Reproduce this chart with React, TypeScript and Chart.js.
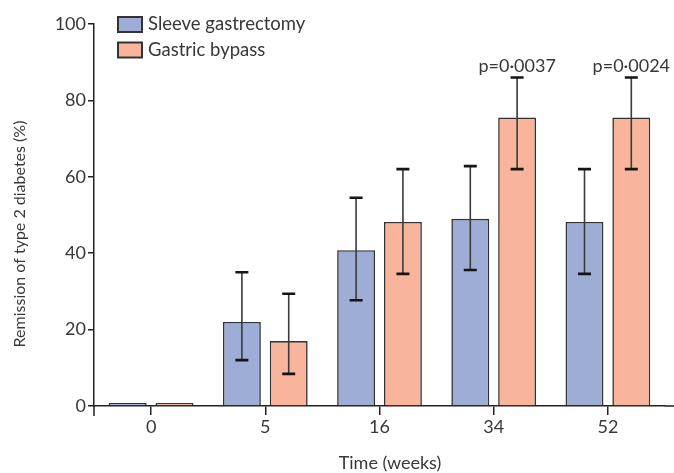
import React, { useEffect, useRef } from "react";
import { Chart, registerables } from "chart.js";

Chart.register(...registerables);

const categories = ["0", "5", "16", "34", "52"];
const sleeveValues = [0, 22, 40.8, 49, 48.2];
const bypassValues = [0, 17, 48.2, 75.5, 75.5];
const sleeveLow = [null, 12, 27.7, 35.6, 34.6];
const sleeveHigh = [null, 35, 54.5, 62.8, 62];
const bypassLow = [null, 8.4, 34.6, 62, 62];
const bypassHigh = [null, 29.4, 62, 86, 86];
const pLabels = ["", "", "", "p=0·0037", "p=0·0024"];
const seriesNames = ["Sleeve gastrectomy", "Gastric bypass"];
const yTitle = "Remission of type 2 diabetes (%)";
const xTitle = "Time (weeks)";

const FONT = "Lato, 'Open Sans', sans-serif";
const TEXT = "#383838";
const SLEEVE_FILL = "#9dadd6";
const BYPASS_FILL = "#f9b59b";
const EDGE = "#333333";

const overlay = {
  id: "overlay",
  afterDatasetsDraw(chart: any) {
    const ctx = chart.ctx;
    const y = chart.scales.y;
    const area = chart.chartArea;
    const lows = [sleeveLow, bypassLow];
    const highs = [sleeveHigh, bypassHigh];
    ctx.save();
    // error bars
    [0, 1].forEach((d) => {
      const meta = chart.getDatasetMeta(d);
      meta.data.forEach((el: any, i: number) => {
        const lo = lows[d][i];
        const hi = highs[d][i];
        if (lo == null || hi == null) return;
        const x = el.x;
        const yl = y.getPixelForValue(lo);
        const yh = y.getPixelForValue(hi);
        ctx.strokeStyle = "#3a3a3a";
        ctx.lineWidth = 1.6;
        ctx.beginPath();
        ctx.moveTo(x, yl);
        ctx.lineTo(x, yh);
        ctx.stroke();
        ctx.strokeStyle = "#151515";
        ctx.lineWidth = 2.6;
        ctx.beginPath();
        ctx.moveTo(x - 6.5, yl);
        ctx.lineTo(x + 6.5, yl);
        ctx.moveTo(x - 6.5, yh);
        ctx.lineTo(x + 6.5, yh);
        ctx.stroke();
        if (d === 1 && pLabels[i]) {
          ctx.fillStyle = TEXT;
          ctx.font = `18px ${FONT}`;
          ctx.textAlign = "center";
          ctx.textBaseline = "bottom";
          ctx.fillText(pLabels[i], x, yh - 2);
        }
      });
    });
    // axis extensions
    ctx.strokeStyle = "#222";
    ctx.lineWidth = 1.5;
    ctx.beginPath();
    ctx.moveTo(area.left, area.bottom);
    ctx.lineTo(area.left, area.bottom + 10);
    ctx.moveTo(area.right, area.bottom);
    ctx.lineTo(chart.width, area.bottom);
    ctx.stroke();
    // legend
    const fills = [SLEEVE_FILL, BYPASS_FILL];
    seriesNames.forEach((name, k) => {
      const by = 17 + k * 25.5;
      ctx.fillStyle = fills[k];
      ctx.fillRect(118, by, 24, 15);
      ctx.strokeStyle = EDGE;
      ctx.lineWidth = 2;
      ctx.strokeRect(118, by, 24, 15);
      ctx.fillStyle = TEXT;
      ctx.font = `18.5px ${FONT}`;
      ctx.textAlign = "left";
      ctx.textBaseline = "middle";
      ctx.fillText(name, 148, by + 7.5);
    });
    // axis titles
    ctx.fillStyle = TEXT;
    ctx.font = `18px ${FONT}`;
    ctx.textAlign = "center";
    ctx.textBaseline = "middle";
    ctx.fillText(xTitle, 390, 463);
    ctx.font = `16px ${FONT}`;
    ctx.save();
    ctx.translate(20, 234);
    ctx.rotate(-Math.PI / 2);
    ctx.fillText(yTitle, 0, 0);
    ctx.restore();
    ctx.restore();
  },
};

export default function App() {
  const ref = useRef<HTMLCanvasElement>(null);
  useEffect(() => {
    const chart = new Chart(ref.current as HTMLCanvasElement, {
      type: "bar",
      data: {
        labels: categories,
        datasets: [
          {
            label: seriesNames[0],
            data: sleeveValues,
            backgroundColor: SLEEVE_FILL,
            borderColor: EDGE,
            borderWidth: 1.6,
            borderSkipped: "start",
            minBarLength: 3,
          },
          {
            label: seriesNames[1],
            data: bypassValues,
            backgroundColor: BYPASS_FILL,
            borderColor: EDGE,
            borderWidth: 1.6,
            borderSkipped: "start",
            minBarLength: 3,
          },
        ],
      },
      options: {
        responsive: false,
        animation: false,
        events: [],
        categoryPercentage: 0.82,
        barPercentage: 0.81,
        layout: { padding: { top: 24, right: 9, left: 0, bottom: 0 } },
        plugins: { legend: { display: false }, tooltip: { enabled: false } },
        scales: {
          x: {
            type: "category",
            offset: true,
            grid: {
              offset: false,
              drawOnChartArea: false,
              drawTicks: true,
              tickLength: 9,
              color: "#222",
              lineWidth: 1.5,
            },
            border: { display: true, color: "#222", width: 1.5 },
            ticks: {
              color: TEXT,
              font: { family: FONT, size: 18 },
              padding: 1,
            },
            afterFit(scale: any) {
              scale.height = 67;
            },
          },
          y: {
            min: 0,
            max: 100,
            ticks: {
              stepSize: 20,
              color: TEXT,
              font: { family: FONT, size: 18 },
              padding: 2,
            },
            grid: {
              drawOnChartArea: false,
              drawTicks: true,
              tickLength: 6,
              color: "#222",
              lineWidth: 1.5,
            },
            border: { display: true, color: "#222", width: 1.5 },
            afterFit(scale: any) {
              scale.width = 94;
            },
          },
        },
      },
      plugins: [overlay],
    });
    return () => chart.destroy();
  }, []);
  return (
    <div style={{ position: "absolute", left: 0, top: 0, width: 674, height: 473, background: "#fff" }}>
      <canvas ref={ref} width={674} height={473} />
    </div>
  );
}
